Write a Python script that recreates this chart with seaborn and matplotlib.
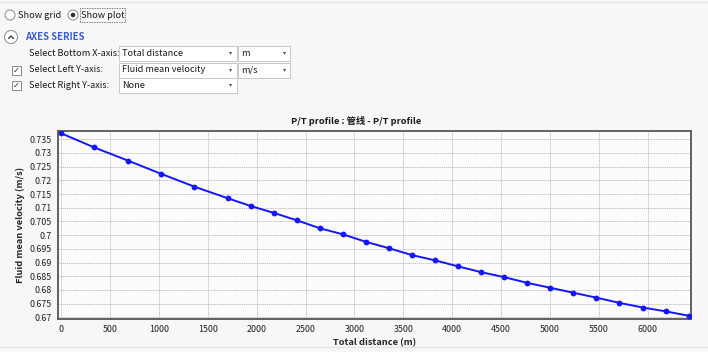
import pandas as pd
import numpy as np
import matplotlib.pyplot as plt
import matplotlib.patches as mpatches
import seaborn as sns

# ---- data ----
distance = [0, 340, 685, 1022, 1363, 1710, 1942, 2177, 2412, 2647, 2882, 3114, 3355,
            3590, 3825, 4060, 4295, 4528, 4766, 5001, 5236, 5472, 5707, 5946, 6181, 6416]
velocity = [0.7372, 0.7320, 0.7272, 0.7224, 0.7177, 0.7134, 0.7106, 0.7081, 0.7054,
            0.7025, 0.7003, 0.6976, 0.6952, 0.6927, 0.6908, 0.6886, 0.6865, 0.6847,
            0.6826, 0.6808, 0.6790, 0.6772, 0.6753, 0.6736, 0.6722, 0.6706]
x_ticks = [0, 500, 1000, 1500, 2000, 2500, 3000, 3500, 4000, 4500, 5000, 5500, 6000]
y_ticks = [0.67, 0.675, 0.68, 0.685, 0.69, 0.695, 0.7, 0.705, 0.71, 0.715, 0.72, 0.725, 0.73, 0.735]

df = pd.DataFrame({'Total distance': distance, 'Fluid mean velocity': velocity})

sns.set_style('white')
plt.rcParams['font.family'] = ['Noto Sans CJK SC', 'DejaVu Sans']

W, H = 708, 352
fig = plt.figure(figsize=(W / 100, H / 100), dpi=100, facecolor='#f7f7f7')

def fx(px):
    return px / W

def fy(py):
    return 1 - py / H

def circle(cx, cy, r, **kw):
    fig.patches.append(mpatches.Ellipse((fx(cx), fy(cy)), 2 * r / W, 2 * r / H,
                                        transform=fig.transFigure, **kw))

# ---- GUI controls above the chart ----
txt = dict(fontsize=6.6, color='#1a1a1a', va='center')

# radio buttons
circle(10, 15, 5, fc='white', ec='#8a8a8a', lw=0.7)
fig.text(fx(18), fy(15), 'Show grid', **txt)
circle(73, 15, 5, fc='white', ec='#8a8a8a', lw=0.7)
circle(73, 15, 2.3, fc='#333333', ec='none')
fig.patches.append(mpatches.Rectangle((fx(80), fy(22)), 45 / W, 14 / H, transform=fig.transFigure,
                                      fc='none', ec='#555555', lw=0.6, ls=(0, (1, 1))))
fig.text(fx(81), fy(15), 'Show plot', **txt)

# section header with collapse chevron
circle(11, 37, 6.5, fc='white', ec='#8a8a8a', lw=0.7)
fig.add_artist(plt.Line2D([fx(8.5), fx(11), fx(13.5)], [fy(38.5), fy(36), fy(38.5)],
                          transform=fig.transFigure, color='#333333', lw=0.9))
fig.text(fx(25), fy(37), 'AXES SERIES', fontsize=6.9, color='#3a5fcd', weight='bold', va='center')

rows = [
    (53, None, 'Select Bottom X-axis:', 'Total distance', 'm'),
    (70, True, 'Select Left Y-axis:', 'Fluid mean velocity', 'm/s'),
    (85, True, 'Select Right Y-axis:', 'None', None),
]
for yc, check, label, combo1, combo2 in rows:
    if check:
        fig.patches.append(mpatches.Rectangle((fx(12), fy(yc + 4.5)), 9 / W, 9 / H,
                                              transform=fig.transFigure, fc='white',
                                              ec='#8a8a8a', lw=0.7))
        fig.text(fx(16.5), fy(yc), '✓', fontsize=6, ha='center', va='center',
                 color='#333333', family='DejaVu Sans')
    fig.text(fx(29), fy(yc), label, **txt)
    fig.patches.append(mpatches.Rectangle((fx(119), fy(yc + 7.5)), 118 / W, 15 / H,
                                          transform=fig.transFigure, fc='white',
                                          ec='#c8c8c8', lw=0.7))
    fig.text(fx(122), fy(yc), combo1, **txt)
    fig.text(fx(231), fy(yc), '▾', fontsize=4.5, ha='center', va='center',
             color='#555555', family='DejaVu Sans')
    if combo2:
        fig.patches.append(mpatches.Rectangle((fx(238), fy(yc + 7.5)), 52 / W, 15 / H,
                                              transform=fig.transFigure, fc='white',
                                              ec='#c8c8c8', lw=0.7))
        fig.text(fx(241), fy(yc), combo2, **txt)
        fig.text(fx(285), fy(yc), '▾', fontsize=4.5, ha='center', va='center',
                 color='#555555', family='DejaVu Sans')

# ---- the chart ----
ax = fig.add_axes([fx(58), fy(319.3), (691 - 58) / W, (319.3 - 131) / H])
ax.set_facecolor('#fcfcfc')
sns.lineplot(data=df, x='Total distance', y='Fluid mean velocity', ax=ax,
             color='#1515ff', linewidth=1.4, marker='o', markersize=4.2,
             markeredgewidth=0, zorder=3)

ax.set_xlim(-30, 6440)
ax.set_ylim(0.6693, 0.7380)
ax.set_xticks(x_ticks)
ax.set_yticks(y_ticks)
ax.set_xticklabels([str(t) for t in x_ticks])
ax.set_yticklabels([f'{t:g}' for t in y_ticks])
ax.tick_params(axis='both', labelsize=6.4, colors='#222222', length=2.5, width=0.6, pad=2)
ax.tick_params(axis='x', length=0, pad=4)
ax.grid(True, color='#b5b5b5', linestyle=(0, (1.5, 1)), linewidth=0.6)
for side in ['left', 'top', 'right', 'bottom']:
    ax.spines[side].set_color('#555555')
    ax.spines[side].set_linewidth(1.3)

ax.set_xlabel('Total distance (m)', fontsize=6.7, weight='bold', labelpad=3)
ax.set_ylabel('Fluid mean velocity (m/s)', fontsize=6.7, weight='bold', labelpad=3)
fig.text(fx(356), fy(121), 'P/T profile : 管线 - P/T profile', fontsize=6.7,
         weight='bold', ha='center', va='center', color='#1a1a1a')

# thin frame lines of the panel
fig.add_artist(plt.Line2D([0, 1], [fy(2), fy(2)], transform=fig.transFigure,
                          color='#e2e2e2', lw=0.8))
fig.add_artist(plt.Line2D([0, 1], [fy(347), fy(347)], transform=fig.transFigure,
                          color='#e2e2e2', lw=0.8))

plt.savefig('out.png', dpi=100, facecolor=fig.get_facecolor())
plt.close()
